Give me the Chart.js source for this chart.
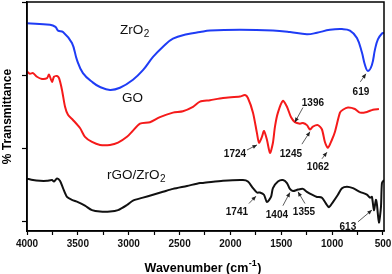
<!DOCTYPE html>
<html><head><meta charset="utf-8">
<script src="https://cdn.jsdelivr.net/npm/chart.js@4/dist/chart.umd.min.js"></script>
<style>html,body{margin:0;padding:0;background:#fff;}canvas{display:block;}</style>
</head><body>
<canvas id="c" width="392" height="274"></canvas>
<script>
// ---- data (wavenumber cm-1, % transmittance in arbitrary offset units) ----
const wnZrO2 = [4000,3774,3720,3695,3646,3558,3509,3450,3351,3282,3184,3086,2958,2860,2761,2663,2565,2427,2299,2201,1906,1582,1415,1248,1149,1022,903,825,756,707,677,648,609,579,550,510,490];
const tZrO2  = [2.71,2.69,2.66,2.61,2.59,2.44,2.21,2.03,1.90,1.84,1.80,1.83,1.94,2.07,2.25,2.39,2.50,2.56,2.59,2.61,2.62,2.61,2.59,2.56,2.58,2.62,2.63,2.61,2.51,2.31,2.14,2.06,2.14,2.35,2.49,2.57,2.58];

const wnGO = [4000,3971,3941,3902,3853,3803,3784,3754,3735,3705,3685,3656,3626,3597,3548,3479,3430,3361,3282,3184,3105,3017,2968,2889,2791,2693,2565,2467,2368,2299,2201,2073,1906,1857,1828,1778,1739,1719,1690,1670,1641,1611,1582,1562,1533,1484,1444,1405,1366,1316,1287,1248,1218,1189,1140,1100,1071,1041,1002,972,923,894,845,776,727,658,599,540];
const tGO  = [2.05,2.02,2.03,1.98,1.95,1.96,2.01,1.91,1.98,1.99,1.96,1.80,1.57,1.46,1.39,1.28,1.16,1.09,1.05,1.05,1.08,1.16,1.23,1.34,1.36,1.43,1.49,1.51,1.57,1.64,1.66,1.69,1.71,1.73,1.69,1.49,1.21,1.08,1.16,1.24,1.12,0.94,1.08,1.30,1.49,1.65,1.57,1.43,1.36,1.34,1.35,1.32,1.26,1.30,1.32,1.26,1.09,1.01,1.12,1.23,1.49,1.53,1.56,1.54,1.49,1.50,1.53,1.54];

const wnRGO = [4000,3941,3872,3803,3754,3735,3705,3676,3646,3607,3558,3499,3430,3361,3282,3184,3105,3017,2958,2860,2761,2663,2565,2427,2299,2270,2073,1877,1828,1778,1739,1710,1670,1641,1601,1582,1533,1484,1444,1415,1385,1336,1287,1248,1198,1149,1100,1051,1031,992,943,903,854,795,727,658,628,609,589,569,559,540,520,510,490];
const tRGO  = [0.59,0.57,0.56,0.56,0.57,0.55,0.59,0.56,0.46,0.34,0.30,0.27,0.22,0.16,0.14,0.14,0.16,0.23,0.29,0.33,0.37,0.41,0.45,0.49,0.53,0.53,0.56,0.57,0.55,0.46,0.40,0.40,0.37,0.27,0.34,0.46,0.55,0.57,0.53,0.45,0.42,0.44,0.45,0.41,0.37,0.34,0.33,0.23,0.20,0.27,0.37,0.46,0.48,0.46,0.41,0.37,0.33,0.34,0.16,0.30,0.23,-0.01,0.20,0.53,0.57];

const xTickValues = [4000,3750,3500,3250,3000,2750,2500,2250,2000,1750,1500,1250,1000,750,500];
const yTickValues = [0,1,2,3];

// series name labels
const nameText = ['ZrO','GO','rGO/ZrO'];
const nameSub  = ['2','','2'];
const nameX    = [3086,3066,3214];
const nameY    = [2.57,1.64,0.59];

// peak labels
const peakText = ['619','1396','1724','1245','1062','1741','1404','1355','613'];
const peakX    = [717,1189,1955,1405,1139,1936,1543,1277,845];
const peakY    = [1.73,1.58,0.89,0.89,0.71,0.10,0.05,0.10,-0.11];
const arrFromX = [723,1287,1837,1297,1100,1818,1484,1267,746];
const arrFromY = [1.91,1.56,0.98,1.06,0.86,0.25,0.22,0.25,0.00];
const arrToX   = [668,1366,1739,1218,1051,1749,1415,1336,609];
const arrToY   = [2.02,1.36,1.05,1.23,0.95,0.35,0.40,0.41,0.16];

const FONT = '"Liberation Sans", Arial, Helvetica, sans-serif';
const pts = (xs, ys) => xs.map((x, i) => ({x: x, y: ys[i]}));

const annotate = {
  id: 'annotate',
  afterDraw(chart) {
    const ctx = chart.ctx, xs = chart.scales.x, ys = chart.scales.y, a = chart.chartArea;
    ctx.save();
    ctx.strokeStyle = '#000'; ctx.lineWidth = 1.5;
    ctx.strokeRect(a.left, a.top, a.right - a.left, a.bottom - a.top);
    ctx.fillStyle = '#111'; ctx.textBaseline = 'alphabetic'; ctx.textAlign = 'left';
    for (let i = 0; i < nameText.length; i++) {
      const px = xs.getPixelForValue(nameX[i]), py = ys.getPixelForValue(nameY[i]);
      ctx.font = '13.5px ' + FONT;
      ctx.fillText(nameText[i], px, py);
      const w = ctx.measureText(nameText[i]).width;
      if (nameSub[i]) { ctx.font = '10px ' + FONT; ctx.fillText(nameSub[i], px + w + 0.5, py + 3.5); }
    }
    ctx.font = 'bold 10px ' + FONT; ctx.textAlign = 'center';
    for (let i = 0; i < peakText.length; i++) {
      ctx.fillStyle = '#111';
      ctx.fillText(peakText[i], xs.getPixelForValue(peakX[i]), ys.getPixelForValue(peakY[i]));
      const x1 = xs.getPixelForValue(arrFromX[i]), y1 = ys.getPixelForValue(arrFromY[i]);
      const x2 = xs.getPixelForValue(arrToX[i]), y2 = ys.getPixelForValue(arrToY[i]);
      ctx.strokeStyle = '#333'; ctx.lineWidth = 0.8;
      ctx.beginPath(); ctx.moveTo(x1, y1); ctx.lineTo(x2, y2); ctx.stroke();
      const ang = Math.atan2(y2 - y1, x2 - x1), L = 4.5, W = 2;
      ctx.fillStyle = '#222';
      ctx.beginPath();
      ctx.moveTo(x2, y2);
      ctx.lineTo(x2 - L * Math.cos(ang) + W * Math.sin(ang), y2 - L * Math.sin(ang) - W * Math.cos(ang));
      ctx.lineTo(x2 - L * Math.cos(ang) - W * Math.sin(ang), y2 - L * Math.sin(ang) + W * Math.cos(ang));
      ctx.closePath(); ctx.fill();
    }
    ctx.fillStyle = '#000'; ctx.textAlign = 'left';
    const main = 'Wavenumber (cm', sup = '-1', end = ')';
    ctx.font = 'bold 12.5px ' + FONT; const w1 = ctx.measureText(main).width, w3 = ctx.measureText(end).width;
    ctx.font = 'bold 9px ' + FONT; const w2 = ctx.measureText(sup).width;
    const x0 = (a.left + a.right) / 2 - (w1 + w2 + w3) / 2 - 3;
    const base = 271.5;
    ctx.font = 'bold 12.5px ' + FONT; ctx.fillText(main, x0, base);
    ctx.font = 'bold 9px ' + FONT; ctx.fillText(sup, x0 + w1 + 0.5, base - 6);
    ctx.font = 'bold 12.5px ' + FONT; ctx.fillText(end, x0 + w1 + w2 + 1, base);
    ctx.restore();
  }
};

new Chart(document.getElementById('c'), {
  type: 'line',
  data: {
    datasets: [
      {label: 'ZrO2', data: pts(wnZrO2, tZrO2), borderColor: '#1f3cf5', borderWidth: 2, tension: 0.4},
      {label: 'GO', data: pts(wnGO, tGO), borderColor: '#f51a1a', borderWidth: 2, tension: 0.25},
      {label: 'rGO/ZrO2', data: pts(wnRGO, tRGO), borderColor: '#111', borderWidth: 2, tension: 0.25}
    ]
  },
  options: {
    responsive: false, animation: false, devicePixelRatio: 1,
    layout: {padding: {top: 2, right: 8, left: 0, bottom: 0}},
    elements: {point: {radius: 0}},
    plugins: {legend: {display: false}, tooltip: {enabled: false}},
    scales: {
      x: {
        type: 'linear', reverse: true, min: 490, max: 4000,
        afterBuildTicks: s => { s.ticks = xTickValues.map(v => ({value: v})); },
        afterFit: s => { s.height = 43; s.paddingLeft = 0; s.paddingRight = 0; },
        grid: {drawOnChartArea: false, drawTicks: true, tickLength: 4, color: '#000', tickWidth: 1.2},
        border: {display: true, color: '#000', width: 1.5},
        ticks: {autoSkip: false, maxRotation: 0, padding: 3, color: '#111',
          font: {family: FONT, size: 10, weight: 'bold'},
          callback: v => (v % 500 === 0 ? String(v) : '')}
      },
      y: {
        type: 'linear', min: -0.125, max: 3.0,
        afterBuildTicks: s => { s.ticks = yTickValues.map(v => ({value: v})); },
        afterFit: s => { s.width = 27; s.paddingTop = 0; s.paddingBottom = 0; },
        grid: {drawOnChartArea: false, drawTicks: true, tickLength: 5, color: '#000', tickWidth: 1.2},
        border: {display: true, color: '#000', width: 1.5},
        ticks: {display: false},
        title: {display: true, text: '% Transmittance', color: '#000', padding: {top: 0, bottom: 0},
          font: {family: FONT, size: 12, weight: 'bold'}}
      }
    }
  },
  plugins: [annotate]
});
</script>
</body></html>
